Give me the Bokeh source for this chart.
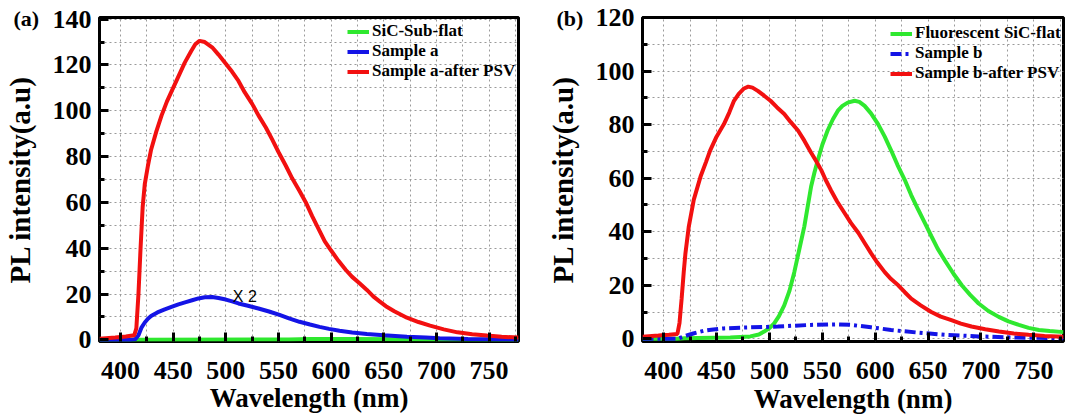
from bokeh.plotting import figure
from bokeh.layouts import row
from bokeh.models import Legend, LegendItem, Label, FixedTicker, Range1d
from bokeh.embed import file_html
from bokeh.resources import INLINE

# ---------------- data: panel (a) ----------------
wl_a_flat = [380, 420, 560, 580, 620, 670, 700, 778]
pl_a_flat = [0.1, 0.1, 0.2, 0.4, 0.4, 0.3, 0.2, 0.1]

wl_a_sample = [380, 410, 414, 417, 420, 423, 426, 429, 435, 442, 449, 455, 462, 468, 474, 480,
               487, 493, 500, 506, 512, 521, 531, 541, 551, 560, 570, 580, 589, 598, 608, 620,
               634, 650, 672, 690, 703, 730, 778]
pl_a_sample = [0, 0, 0.3, 2, 5.5, 7.6, 9.2, 10.4, 12, 13.3, 14.5, 15.5, 16.5, 17.3, 18.1, 18.6,
               18.7, 18.3, 17.6, 16.8, 15.9, 14.9, 13.7, 12.4, 10.9, 9.4, 7.9, 6.7, 5.7, 4.8, 4.0, 3.2,
               2.6, 2.0, 1.4, 1.0, 0.7, 0.4, 0.1]

wl_a_psv = [380, 395, 405, 413, 415, 417, 419, 421, 423, 426, 429, 434, 439, 444, 449, 455, 461,
            467, 471, 475, 480, 487, 493, 500, 506, 512, 518, 525, 531, 538, 544, 550, 557, 563,
            570, 576, 582, 589, 594, 600, 607, 614, 620, 627, 634, 640, 646, 652, 660, 672, 683,
            694, 707, 720, 734, 748, 762, 778]
pl_a_psv = [0.5, 1.0, 1.5, 2.0, 5, 20, 40, 58, 68, 76, 83, 91, 98, 104, 109, 115, 121,
            126, 129, 130.5, 130, 127.7, 124.5, 120.5, 117, 113, 108, 103, 98, 92.7, 87.5, 82, 76, 70.5,
            65, 60, 54, 47.6, 43, 39, 34.5, 30.5, 27.5, 24.7, 21.8, 19, 16.8, 14.7, 12.5, 9.7, 7.8,
            6.2, 4.6, 3.3, 2.5, 1.9, 1.4, 1.0]

# ---------------- data: panel (b) ----------------
wl_b_flat = [380, 412, 420, 432, 463, 482, 490, 495, 500, 504.5, 509, 514, 519, 523.5, 528, 533,
             536, 539.4, 542.5, 545.7, 550, 555, 560, 564.7, 569, 574, 580.5, 585, 590, 596, 602.7,
             609, 615, 621, 628, 634, 640.7, 647, 653, 659, 666, 674, 682, 690, 697.8, 707, 716.8,
             726, 735.8, 745, 754.8, 765, 778]
pl_b_flat = [0, 0, 0.2, 0.3, 0.5, 0.9, 1.6, 2.7, 4, 5.8, 8.5, 12.5, 18, 24.9, 33, 42,
             49, 56.9, 62, 66.7, 72.5, 77.8, 82, 85.2, 87, 88.2, 88.9, 88.5, 87, 84.2, 80.2,
             75.5, 70.4, 65, 59.3, 53.7, 48.2, 43.2, 38.4, 33.7, 29.2, 24.3, 19.9, 16.3, 13.2, 10.4, 8.2,
             6.5, 5.2, 4.1, 3.3, 2.9, 2.5]

wl_b_sample = [380, 413, 419, 428, 438, 447, 457, 476, 508, 539, 565, 577, 596, 615, 641, 666,
               698, 730, 778]
pl_b_sample = [0, 0, 0.9, 2, 3, 3.5, 3.9, 4.2, 4.6, 5.2, 5.4, 5.2, 4.3, 3.3, 2.3, 1.5,
               0.9, 0.5, 0.2]

wl_b_psv = [380, 395, 405, 413, 415, 417, 419, 420.6, 423.8, 428.5, 434.8, 440, 444, 450, 457,
            462, 466.5, 471, 476, 480, 484, 489, 495, 501, 507, 514, 520, 527, 533, 539, 544, 549,
            553, 558, 564, 571, 577, 584, 590, 596, 602, 609, 615, 622, 628, 634, 643, 653, 662,
            672, 681, 691, 704, 717, 731, 745, 760, 778]
pl_b_psv = [0.8, 1.2, 1.5, 1.8, 6, 15, 25, 32, 42, 52, 60.5, 66, 70.4, 75.5, 80.2,
            84.5, 88.9, 91.5, 93.5, 94.2, 93.8, 92.6, 90.8, 88.9, 86.5, 84, 81, 77.8, 74, 69.8, 66.5, 63,
            59.5, 55.6, 51.3, 47, 43.3, 39.6, 35.8, 32, 28.5, 24.9, 22.3, 19.9, 17.4, 15, 12.5, 10, 8.3,
            7, 5.7, 4.6, 3.6, 2.7, 2.0, 1.5, 1.1, 0.8]

x_major = [400, 450, 500, 550, 600, 650, 700, 750]
x_minor = [425, 475, 525, 575, 625, 675, 725, 775]
y_major_a = [0, 20, 40, 60, 80, 100, 120, 140]
y_minor_a = [10, 30, 50, 70, 90, 110, 130]
y_major_b = [0, 20, 40, 60, 80, 100, 120]
y_minor_b = [10, 30, 50, 70, 90, 110]

labels_a = ["SiC-Sub-flat", "Sample a", "Sample a-after PSV"]
labels_b = ["Fluorescent SiC-flat", "Sample b", "Sample b-after PSV"]
x_title = "Wavelength (nm)"
y_title = "PL intensity(a.u)"

RED = "#f21010"
BLUE = "#1414e6"
GREEN = "#2fe82f"
SERIF = "Liberation Serif"


def make_fig(width, mbl, mbr, mbt, mbb, yr, ymaj, ymin, panel_tag, tick_standoff, xlab_standoff):
    p = figure(width=width, height=418, output_backend="svg", toolbar_location=None,
               x_range=Range1d(380, 778), y_range=Range1d(*yr),
               min_border_left=mbl, min_border_right=mbr,
               min_border_top=mbt, min_border_bottom=mbb)
    p.background_fill_color = "white"
    p.border_fill_color = "white"
    p.outline_line_color = "black"
    p.outline_line_width = 3
    p.outline_line_alpha = 1.0
    p.xaxis.ticker = FixedTicker(ticks=x_major, minor_ticks=x_minor)
    p.yaxis.ticker = FixedTicker(ticks=ymaj, minor_ticks=ymin)
    for ax in (p.xaxis, p.yaxis):
        ax.axis_line_color = None
        ax.major_tick_in = 9
        ax.major_tick_out = 0
        ax.minor_tick_in = 5
        ax.minor_tick_out = 0
        ax.major_tick_line_width = 3
        ax.minor_tick_line_width = 3
        ax.major_tick_line_color = "black"
        ax.minor_tick_line_color = "black"
        ax.major_label_text_font = SERIF
        ax.major_label_text_font_style = "bold"
        ax.major_label_text_font_size = "26px"
        ax.major_label_text_color = "black"
        ax.axis_label_text_font = SERIF
        ax.axis_label_text_font_style = "bold"
        ax.axis_label_text_color = "black"
    p.xaxis.axis_label = x_title
    p.xaxis.axis_label_text_font_size = "27px"
    p.xaxis.major_label_text_line_height = 0.8
    p.xaxis.axis_label_text_line_height = 0.7
    p.xaxis.major_label_standoff = tick_standoff
    p.xaxis.axis_label_standoff = xlab_standoff
    p.yaxis.axis_label = y_title
    p.yaxis.axis_label_text_font_size = "29px"
    p.yaxis.major_label_standoff = 8
    p.yaxis.axis_label_standoff = 14
    for g in (p.xgrid, p.ygrid):
        g.grid_line_color = "#9a9a9a"
        g.grid_line_dash = "2 3"
        g.grid_line_width = 1
        g.minor_grid_line_color = "#9a9a9a"
        g.minor_grid_line_dash = "2 3"
        g.minor_grid_line_width = 1
    # panel tag "(a)" / "(b)"
    p.title.text = panel_tag
    p.title.align = "left"
    p.title.offset = -86
    p.title.standoff = -26
    p.title.text_font = SERIF
    p.title.text_font_style = "bold"
    p.title.text_font_size = "22px"
    p.title.text_color = "black"
    return p


def style_legend(lg):
    lg.border_line_color = None
    lg.background_fill_alpha = 0
    lg.label_text_font = SERIF
    lg.label_text_font_style = "bold"
    lg.label_text_font_size = "17px"
    lg.label_text_color = "black"
    lg.glyph_width = 22
    lg.glyph_height = 17
    lg.label_height = 17
    lg.label_standoff = 3
    lg.spacing = -2
    lg.padding = 0
    lg.margin = 0


# ---------------- panel (a) ----------------
p1 = make_fig(538, 96, 20, 17, 72, (-0.7, 140.7), y_major_a, y_minor_a, "(a)", 20, 1)
ra1 = p1.line(wl_a_flat, pl_a_flat, line_color=GREEN, line_width=4)
ra2 = p1.line(wl_a_sample, pl_a_sample, line_color=BLUE, line_width=4)
ra3 = p1.line(wl_a_psv, pl_a_psv, line_color=RED, line_width=4)
lg1 = Legend(items=[LegendItem(label=labels_a[0], renderers=[ra1]),
                    LegendItem(label=labels_a[1], renderers=[ra2]),
                    LegendItem(label=labels_a[2], renderers=[ra3])],
             location=(248, 260))
style_legend(lg1)
p1.add_layout(lg1)
p1.add_layout(Label(x=518, y=19.1, text="X 2", text_font="Liberation Sans",
                    text_font_size="16px", text_align="center", text_baseline="middle",
                    text_color="black"))

# ---------------- panel (b) ----------------
p2 = make_fig(534, 104, 9, 15, 77, (-1, 120), y_major_b, y_minor_b, "(b)", 20, 2)
rb1 = p2.line(wl_b_flat, pl_b_flat, line_color=GREEN, line_width=4)
rb2 = p2.line(wl_b_sample, pl_b_sample, line_color=BLUE, line_width=4, line_dash="11 4 3 4")
rb3 = p2.line(wl_b_psv, pl_b_psv, line_color=RED, line_width=4)
lg2 = Legend(items=[LegendItem(label=labels_b[0], renderers=[rb1]),
                    LegendItem(label=labels_b[1], renderers=[rb2]),
                    LegendItem(label=labels_b[2], renderers=[rb3])],
             location=(248, 258))
style_legend(lg2)
p2.add_layout(lg2)

layout = row(p1, p2)
open("out.html", "w").write(file_html(layout, INLINE))
